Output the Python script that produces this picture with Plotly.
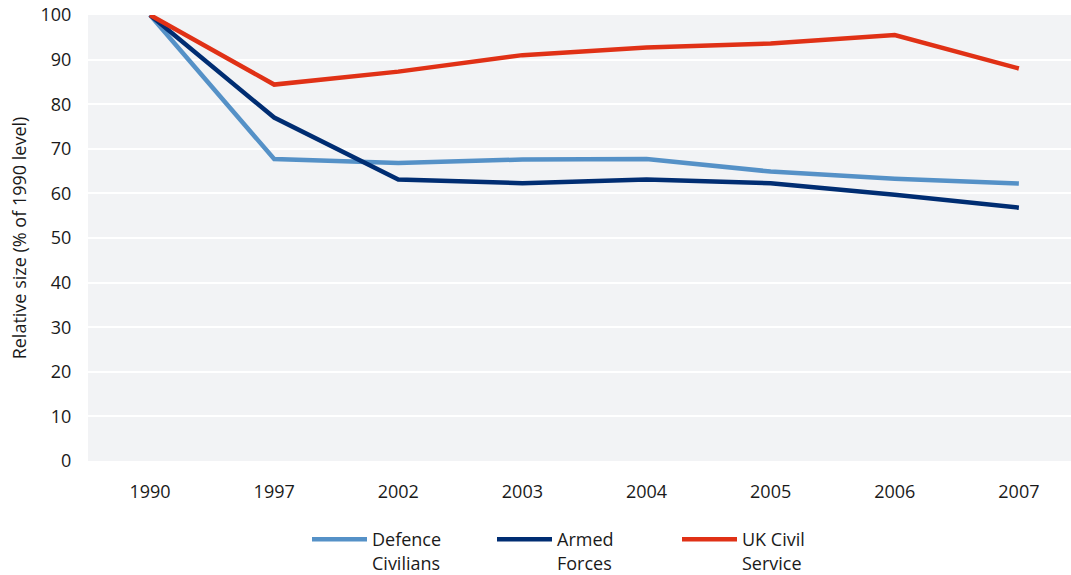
import plotly.graph_objects as go

years = ["1990", "1997", "2002", "2003", "2004", "2005", "2006", "2007"]
defence_civilians = [100, 67.7, 66.8, 67.6, 67.7, 64.9, 63.3, 62.2]
armed_forces = [100, 77.0, 63.1, 62.3, 63.1, 62.3, 59.7, 56.8]
uk_civil_service = [100, 84.4, 87.3, 91.0, 92.7, 93.6, 95.5, 88.0]

series = [
    ("Defence<br>Civilians", defence_civilians, "#5591c7"),
    ("Armed<br>Forces", armed_forces, "#002d72"),
    ("UK Civil<br>Service", uk_civil_service, "#e03116"),
]

FONT = "Open Sans, Noto Sans, sans-serif"

fig = go.Figure()
for name, vals, col in series:
    fig.add_trace(go.Scatter(x=years, y=vals, mode="lines", name=name,
                             line=dict(color=col, width=4.5)))

fig.update_layout(
    width=1071, height=575,
    margin=dict(l=88, r=0, t=15, b=114),
    paper_bgcolor="white",
    plot_bgcolor="#f2f3f5",
    font=dict(family=FONT, size=18, color="#1a1a1a"),
    showlegend=True,
    legend=dict(orientation="h", xref="container", yref="container",
                x=307 / 1071, xanchor="left", y=1 - 521 / 575, yanchor="top",
                valign="top", font=dict(size=18), entrywidth=115, entrywidthmode="pixels",
                itemwidth=55),
    xaxis=dict(type="category", range=[-0.5, 7.42], showgrid=False, zeroline=False,
               ticks="outside", ticklen=14, tickcolor="rgba(0,0,0,0)", showline=False),
    yaxis=dict(range=[0, 100], dtick=10, gridcolor="white", gridwidth=1.5, zeroline=False,
               ticks="outside", ticklen=12, tickcolor="rgba(0,0,0,0)", showline=False,
               title=dict(text="Relative size (% of 1990 level)", standoff=9, font=dict(size=18))),
)

fig.write_html("out.html")
